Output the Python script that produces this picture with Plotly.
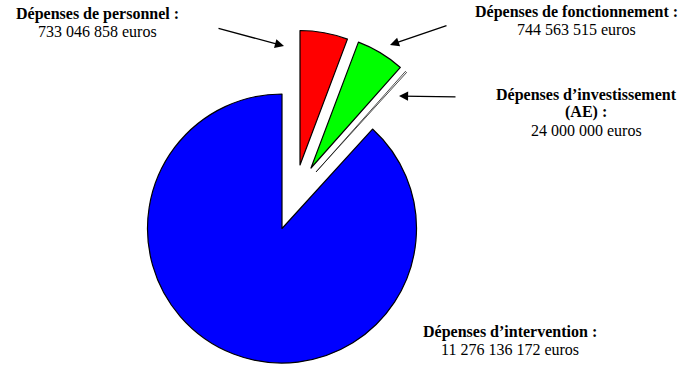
import plotly.graph_objects as go

# ---- data ----
categories = ["Dépenses de personnel", "Dépenses de fonctionnement",
              "Dépenses d’investissement (AE)", "Dépenses d’intervention"]
values = [733046858, 744563515, 24000000, 11276136172]
title_lines = [["Dépenses de personnel :"],
               ["Dépenses de fonctionnement :"],
               ["Dépenses d’investissement", "(AE) :"],
               ["Dépenses d’intervention :"]]
value_labels = ["733 046 858 euros", "744 563 515 euros",
                "24 000 000 euros", "11 276 136 172 euros"]

# ---- style / layout ----
W, H = 686, 368
colors = ["#FF0000", "#00FF00", "#FFFFFF", "#0000FF"]
line_widths = [1.2, 1.2, 0.7, 1.2]
CX, CY, R = 282, 228.5, 134.5
offsets = [(18, -63.5), (29, -60.5), (34, -56.5), (0, 0)]   # exploded slices (px)
draw_order = [3, 0, 1, 2]
label_pos = [(97, 14), (576, 12), (586, 95), (510, 332)]
line_step = 17.5
arrows = [((217, 28), (284, 46)), ((448, 25), (390, 45)), ((457, 97), (399, 96)), None]
FONT = "Liberation Serif, Times New Roman, serif"
FS = 16

def px(x):
    return x / W

def py(y):
    return 1 - y / H

fig = go.Figure()
for i in draw_order:
    dx, dy = offsets[i]
    cx, cy = CX + dx, CY + dy
    fig.add_trace(go.Pie(
        labels=categories,
        values=values,
        sort=False,
        direction="clockwise",
        rotation=0,
        textinfo="none",
        hoverinfo="skip",
        showlegend=False,
        marker=dict(
            colors=[colors[j] if j == i else "rgba(0,0,0,0)" for j in range(len(values))],
            line=dict(color="black",
                      width=[line_widths[j] if j == i else 0 for j in range(len(values))]),
        ),
        domain=dict(x=[px(cx - R), px(cx + R)], y=[py(cy + R), py(cy - R)]),
    ))

annotations = []
for i in range(len(categories)):
    lx, ly = label_pos[i]
    lines = [(t, True) for t in title_lines[i]] + [(value_labels[i], False)]
    for k, (txt, bold) in enumerate(lines):
        annotations.append(dict(
            x=px(lx), y=py(ly + k * line_step), xref="paper", yref="paper",
            text=f"<b>{txt}</b>" if bold else txt,
            showarrow=False, xanchor="center", yanchor="middle",
            font=dict(family=FONT, size=FS, color="black"),
        ))
    if arrows[i] is not None:
        (tx, ty), (hx, hy) = arrows[i]
        annotations.append(dict(
            x=px(hx), y=py(hy), xref="paper", yref="paper",
            ax=tx - hx, ay=ty - hy, axref="pixel", ayref="pixel",
            text="", showarrow=True, arrowhead=2, arrowsize=1.4,
            arrowwidth=1.3, arrowcolor="black", standoff=0, startstandoff=0,
        ))

fig.update_layout(
    width=W, height=H,
    margin=dict(l=0, r=0, t=0, b=0),
    paper_bgcolor="white", plot_bgcolor="white",
    annotations=annotations,
    showlegend=False,
)

fig.write_html("out.html")
